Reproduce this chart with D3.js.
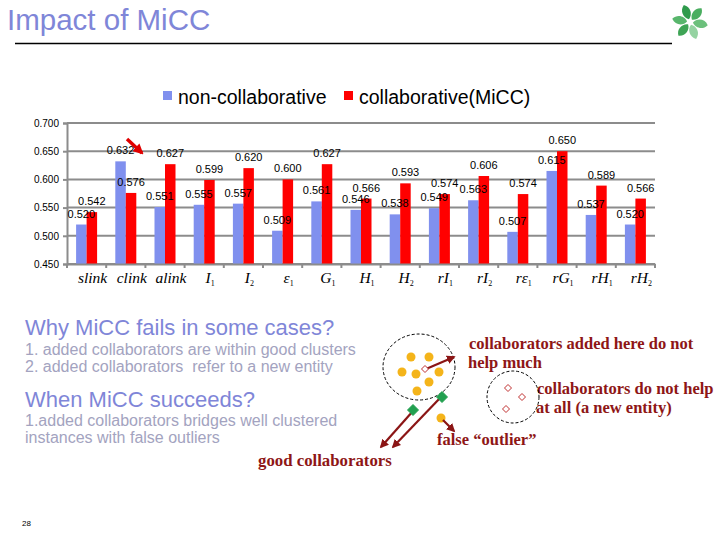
<!DOCTYPE html>
<html><head><meta charset="utf-8">
<script src="https://cdn.jsdelivr.net/npm/d3@7"></script>
<style>body{margin:0;background:#fff}svg{display:block}</style>
</head><body><svg id="c" width="720" height="540"></svg>
<script>
const categories = ["slink","clink","alink","I1","I2","ε1","G1","H1","H2","rI1","rI2","rε1","rG1","rH1","rH2"];
const seriesNames = ["non-collaborative","collaborative(MiCC)"];
const nonCollab = [0.520,0.632,0.551,0.555,0.557,0.509,0.561,0.546,0.538,0.549,0.563,0.507,0.615,0.537,0.520];
const collab    = [0.542,0.576,0.627,0.599,0.620,0.600,0.627,0.566,0.593,0.574,0.606,0.574,0.650,0.589,0.566];
const yTicks = [0.45,0.50,0.55,0.60,0.65,0.70];
const colors = ["#8090ee","#ff0000"];

const svg = d3.select("#c");
svg.append("rect").attr("width",720).attr("height",540).attr("fill","#fff");

// title
svg.append("text").attr("x",7).attr("y",30).attr("font-family","Liberation Sans, Arial").attr("font-size",29.5)
  .attr("fill","#7f86d8").text("Impact of MiCC");
svg.append("line").attr("x1",15).attr("x2",672).attr("y1",43.5).attr("y2",43.5).attr("stroke","#000").attr("stroke-width",1.5);

// logo
const logo = svg.append("g").attr("transform","translate(690,22)");
const petalCols = ["#2f9b4c","#4aae60","#6cc07c","#95d3a2","#3ea455","#58b66c"];
d3.range(6).forEach(i=>{
  const a = i*60 - 20;
  logo.append("path").attr("d","M0,-3 C-5,-6 -6,-14 0,-18 C6,-14 5,-6 0,-3Z")
    .attr("transform",`rotate(${a})`).attr("fill",petalCols[i]);
});

// legend
const lg = svg.append("g");
[[163,178],[344,359]].forEach((p,i)=>{
  lg.append("rect").attr("x",p[0]).attr("y",91).attr("width",9).attr("height",9).attr("fill",colors[i]);
  lg.append("text").attr("x",p[1]).attr("y",104).attr("font-family","Liberation Sans, Arial").attr("font-size",19.5)
    .attr("fill","#000").text(seriesNames[i]);
});

// chart
const x = d3.scaleBand().domain(categories).range([67,655]).padding(0);
const xs = d3.scaleBand().domain(seriesNames).range([x.bandwidth()/2-10.5, x.bandwidth()/2+10.5]);
const y = d3.scaleLinear().domain([0.45,0.70]).range([264,123]);

const grid = svg.append("g");
yTicks.forEach(t=>{
  grid.append("line").attr("x1",67).attr("x2",655).attr("y1",y(t)).attr("y2",y(t)).attr("stroke","#8c8c8c").attr("stroke-width",2);
});

const yAxis = svg.append("g").attr("transform","translate(67,0)")
  .call(d3.axisLeft(y).tickValues(yTicks).tickFormat(d3.format(".3f")).tickSize(4).tickPadding(4));
yAxis.select(".domain").attr("stroke","#8c8c8c").attr("stroke-width",2);
yAxis.selectAll(".tick line").attr("stroke","#8c8c8c").attr("stroke-width",2);
yAxis.selectAll("text").attr("font-family","Liberation Sans, Arial").attr("font-size",10).attr("fill","#000");

const data = [nonCollab, collab];
data.forEach((vals,si)=>{
  const g = svg.append("g");
  g.selectAll("rect").data(vals).join("rect")
    .attr("x",(d,i)=>x(categories[i])+xs(seriesNames[si]))
    .attr("width",xs.bandwidth())
    .attr("y",d=>y(d)).attr("height",d=>y(0.45)-y(d))
    .attr("fill",colors[si]);
});
data.forEach((vals,si)=>{
  svg.append("g").selectAll("text").data(vals).join("text")
    .attr("x",(d,i)=>x(categories[i])+xs(seriesNames[si])+xs.bandwidth()/2)
    .attr("y",d=>y(d)-7)
    .attr("text-anchor","middle").attr("font-family","Liberation Sans, Arial").attr("font-size",11)
    .attr("fill","#000").text(d=>d3.format(".3f")(d));
});

// x axis
const xAxis = svg.append("g").attr("transform","translate(0,264)")
  .call(d3.axisBottom(x).tickSize(0).tickFormat(""));
xAxis.select(".domain").attr("stroke","#8c8c8c").attr("stroke-width",2);
categories.concat(["end"]).forEach((c,i)=>{
  const xx = 67 + i*x.bandwidth();
  svg.append("line").attr("x1",xx).attr("x2",xx).attr("y1",264).attr("y2",268).attr("stroke","#8c8c8c").attr("stroke-width",2);
});
categories.forEach(c=>{
  const m = c.match(/^(.*?)(\d)$/);
  const t = svg.append("text").attr("x",x(c)+x.bandwidth()/2+6).attr("y",283)
    .attr("text-anchor","middle").attr("font-family","Liberation Serif, Times New Roman").attr("font-style","italic")
    .attr("font-size",15.5).attr("fill","#000");
  if(m){
    t.append("tspan").text(m[1]);
    t.append("tspan").attr("font-size",8).attr("font-style","normal").attr("dy",3).text(m[2]);
  } else t.text(c);
});

// red arrow near clink
const defs = svg.append("defs");
defs.append("marker").attr("id","ar").attr("viewBox","0 0 10 10").attr("refX",8).attr("refY",5)
  .attr("markerWidth",3).attr("markerHeight",3).attr("orient","auto")
  .append("path").attr("d","M0,0L10,5L0,10z").attr("fill","#e00000");
defs.append("marker").attr("id","ad").attr("viewBox","0 0 10 10").attr("refX",8).attr("refY",5)
  .attr("markerWidth",4).attr("markerHeight",4).attr("orient","auto")
  .append("path").attr("d","M0,0L10,5L0,10z").attr("fill","#8b1515");
svg.append("line").attr("x1",127).attr("y1",139).attr("x2",142).attr("y2",153).attr("stroke","#e00000").attr("stroke-width",3.5).attr("marker-end","url(#ar)");

// bottom texts
const lav = "#7f86d8", gray = "#a3a3c0", dred = "#8e1616";
const T = (x0,y0,s,fs,col,fam,bold)=>svg.append("text").attr("x",x0).attr("y",y0).attr("font-size",fs).attr("fill",col)
  .attr("font-family",fam||"Liberation Sans, Arial").attr("font-weight",bold?"bold":"normal").text(s);
T(25,335,"Why MiCC fails in some cases?",22,lav);
T(25,355,"1. added collaborators are within good clusters",16,gray);
T(25,372,"2. added collaborators  refer to a new entity",16,gray).style("white-space","pre");
T(25,407,"When MiCC succeeds?",22,lav);
T(25,426,"1.added collaborators bridges well clustered",16,gray);
T(25,443,"instances with false outliers",16,gray);
const serif = "Liberation Serif, Times New Roman";
T(258,466,"good collaborators",16.8,dred,serif,true);
T(469,349,"collaborators added here do not",16.5,dred,serif,true);
T(468,368,"help much",16.5,dred,serif,true);
T(537,394,"collaborators do not help",16.5,dred,serif,true);
T(536,413,"at all (a new entity)",16.5,dred,serif,true);
T(437,445,"false \u201coutlier\u201d",16.5,dred,serif,true);
T(22,526,"28",8,"#000");

// diagram
svg.append("ellipse").attr("cx",419).attr("cy",367).attr("rx",36).attr("ry",33).attr("fill","none").attr("stroke","#000").attr("stroke-dasharray","3,2");
svg.append("circle").attr("cx",513).attr("cy",397).attr("r",26).attr("fill","none").attr("stroke","#000").attr("stroke-dasharray","3,2");
const yel = [[411,357],[429,357],[402,372],[416,374],[439,372],[429,382],[417,391],[441,418]];
yel.forEach(p=>svg.append("circle").attr("cx",p[0]).attr("cy",p[1]).attr("r",4.5).attr("fill","#f4b41a"));
const dia = (cx,cy,r,fill,stroke)=>svg.append("path").attr("d",`M${cx},${cy-r}L${cx+r},${cy}L${cx},${cy+r}L${cx-r},${cy}Z`)
  .attr("fill",fill).attr("stroke",stroke).attr("stroke-width",1);
const arr = (x1,y1,x2,y2)=>svg.append("line").attr("x1",x1).attr("y1",y1).attr("x2",x2).attr("y2",y2)
  .attr("stroke","#8b1515").attr("stroke-width",2.2).attr("marker-end","url(#ad)");
arr(426,369,454,357);
arr(413,411,381,447);
arr(441,397,393,447);
arr(443,420,454,431);
dia(425,369,3.5,"#fff","#c03030");
[[508,388],[522,397],[506,409]].forEach(p=>dia(p[0],p[1],3.5,"#fff","#c03030"));
dia(413,410,5.5,"#22a050","#22a050");
dia(442,397,5.5,"#22a050","#22a050");
</script></body></html>
